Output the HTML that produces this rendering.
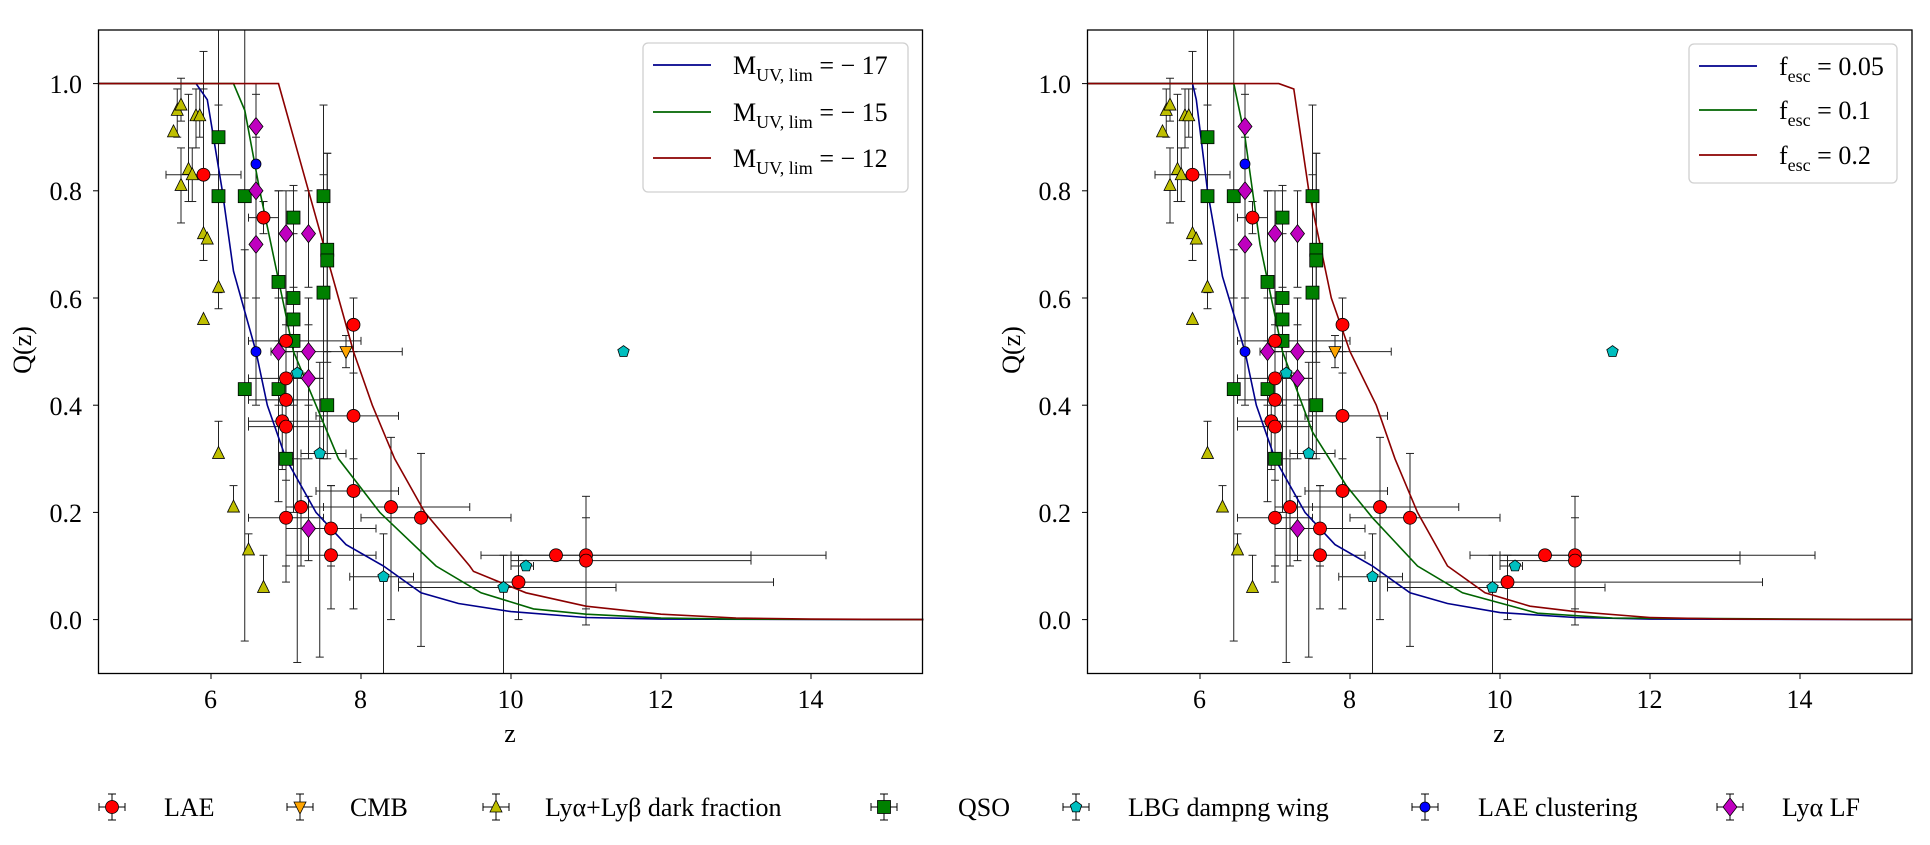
<!DOCTYPE html>
<html><head><meta charset="utf-8">
<style>
html,body{margin:0;padding:0;background:#fff;}
svg{display:block;font-family:"Liberation Serif","DejaVu Serif",serif;}
</style></head>
<body>
<svg id="s" width="1930" height="845" viewBox="0 0 1930 845" xmlns="http://www.w3.org/2000/svg">
<rect width="1930" height="845" fill="#fff"/>
<g id="plots"></g>
<rect x="98.5" y="30" width="824" height="643.5" fill="none" stroke="#000" stroke-width="1.3"/>
<rect x="1087.5" y="30" width="824.5" height="643.5" fill="none" stroke="#000" stroke-width="1.3"/>
<g font-size="26" fill="#000">
<g text-anchor="end">
<text x="82" y="629">0.0</text><text x="82" y="522">0.2</text><text x="82" y="415">0.4</text>
<text x="82" y="308">0.6</text><text x="82" y="200">0.8</text><text x="82" y="93">1.0</text>
<text x="1071" y="629">0.0</text><text x="1071" y="522">0.2</text><text x="1071" y="415">0.4</text>
<text x="1071" y="308">0.6</text><text x="1071" y="200">0.8</text><text x="1071" y="93">1.0</text>
</g>
<g text-anchor="middle">
<text x="210.5" y="708">6</text><text x="360.5" y="708">8</text><text x="510.5" y="708">10</text>
<text x="660.5" y="708">12</text><text x="810.5" y="708">14</text>
<text x="1199.5" y="708">6</text><text x="1349.5" y="708">8</text><text x="1499.5" y="708">10</text>
<text x="1649.5" y="708">12</text><text x="1799.5" y="708">14</text>
<text x="510" y="742">z</text><text x="1499" y="742">z</text>
<text transform="translate(31,350) rotate(-90)">Q(z)</text>
<text transform="translate(1020,350) rotate(-90)">Q(z)</text>
</g>
<rect x="643" y="43" width="265" height="149" rx="5" fill="#fff" fill-opacity="0.8" stroke="#d0d0d0" stroke-width="1.3"/>
<line x1="653" y1="65" x2="711" y2="65" stroke="#00008b" stroke-width="1.8"/>
<line x1="653" y1="112" x2="711" y2="112" stroke="#006400" stroke-width="1.8"/>
<line x1="653" y1="158" x2="711" y2="158" stroke="#8b0000" stroke-width="1.8"/>
<text x="733" y="74">M<tspan font-size="18" dy="7">UV, lim</tspan><tspan dy="-7"> = − 17</tspan></text>
<text x="733" y="121">M<tspan font-size="18" dy="7">UV, lim</tspan><tspan dy="-7"> = − 15</tspan></text>
<text x="733" y="167">M<tspan font-size="18" dy="7">UV, lim</tspan><tspan dy="-7"> = − 12</tspan></text>
<rect x="1689" y="44" width="208" height="139" rx="5" fill="#fff" fill-opacity="0.8" stroke="#d0d0d0" stroke-width="1.3"/>
<line x1="1699" y1="66" x2="1757" y2="66" stroke="#00008b" stroke-width="1.8"/>
<line x1="1699" y1="110" x2="1757" y2="110" stroke="#006400" stroke-width="1.8"/>
<line x1="1699" y1="155" x2="1757" y2="155" stroke="#8b0000" stroke-width="1.8"/>
<text x="1779" y="75">f<tspan font-size="18" dy="7">esc</tspan><tspan dy="-7"> = 0.05</tspan></text>
<text x="1779" y="119">f<tspan font-size="18" dy="7">esc</tspan><tspan dy="-7"> = 0.1</tspan></text>
<text x="1779" y="164">f<tspan font-size="18" dy="7">esc</tspan><tspan dy="-7"> = 0.2</tspan></text>
<text x="164" y="816">LAE</text>
<text x="350" y="816">CMB</text>
<text x="545" y="816">Lyα+Lyβ dark fraction</text>
<text x="958" y="816">QSO</text>
<text x="1128" y="816">LBG dampng wing</text>
<text x="1478" y="816">LAE clustering</text>
<text x="1782" y="816">Lyα LF</text>
</g>
<g id="leg"></g>
</svg>
<script>
var NS="http://www.w3.org/2000/svg";
function el(p,t,a){var e=document.createElementNS(NS,t);for(var k in a)e.setAttribute(k,a[k]);p.appendChild(e);return e;}
var P=document.getElementById("plots"),L=document.getElementById("leg");
var C={lae:"#ff0000",cmb:"#ffa500",dark:"#bfbf00",qso:"#008000",lbg:"#00bfbf",cl:"#0000ff",lf:"#bf00bf"};
function marker(g,type,x,y){
 var c=C[type],st={fill:c,stroke:"#000","stroke-width":0.8};
 if(type=="lae"){st.cx=x;st.cy=y;st.r=6.5;el(g,"circle",st);}
 else if(type=="cl"){st.cx=x;st.cy=y;st.r=5;el(g,"circle",st);}
 else if(type=="qso"){st.x=x-6.5;st.y=y-6.5;st.width=13;st.height=13;el(g,"rect",st);}
 else if(type=="dark"){st.points=(x-6)+","+(y+5)+" "+(x+6)+","+(y+5)+" "+x+","+(y-7);el(g,"polygon",st);}
 else if(type=="cmb"){st.points=(x-6)+","+(y-5)+" "+(x+6)+","+(y-5)+" "+x+","+(y+7);el(g,"polygon",st);}
 else if(type=="lf"){st.points=x+","+(y-9)+" "+(x+7)+","+y+" "+x+","+(y+9)+" "+(x-7)+","+y;el(g,"polygon",st);}
 else if(type=="lbg"){var p=[];for(var i=0;i<5;i++){var a=-Math.PI/2+i*2*Math.PI/5;p.push((x+6*Math.cos(a)).toFixed(1)+","+(y+6*Math.sin(a)).toFixed(1));}st.points=p.join(" ");el(g,"polygon",st);}
}
var D=[
["dark",5.5,0.91,0,0,0.91,0.91],["dark",5.55,0.95,0,0,0.9,0.99],["dark",5.6,0.96,0,0,0.93,1.01],["dark",5.6,0.81,0,0,0.74,0.88],
["dark",5.7,0.84,0,0,0.78,0.98],["dark",5.75,0.83,0,0,0.78,0.88],["dark",5.8,0.94,0,0,0.88,0.99],["dark",5.85,0.94,0,0,0.9,0.99],
["dark",5.9,0.72,0,0,0.67,1.06],["dark",5.95,0.71,0,0,0.71,0.71],["dark",6.1,0.62,0,0,0.62,0.62],["dark",5.9,0.56,0,0,0.56,0.56],
["dark",6.1,0.31,0,0,0.31,0.37],["dark",6.3,0.21,0,0,0.21,0.25],["dark",6.5,0.13,0,0,0.13,0.16],["dark",6.7,0.06,0,0,0.06,0.12],
["qso",6.1,0.90,0,0,0.61,0.96],["qso",6.1,0.79,0,0,0.58,1.1],["qso",6.45,0.79,0,0,0.6,1.1],["qso",6.45,0.43,0,0,-0.04,0.69],
["qso",6.9,0.63,0,0,0.52,0.8],["qso",6.9,0.43,0,0,0.22,0.8],["qso",7.0,0.30,0,0,0.1,0.52],["qso",7.1,0.75,0,0,0.62,0.81],
["qso",7.1,0.60,0,0,0.4,0.8],["qso",7.1,0.56,0,0,0.3,0.76],["qso",7.1,0.52,0,0,0.2,0.72],["qso",7.5,0.79,0,0,0.6,0.96],
["qso",7.55,0.69,0,0,0.5,0.87],["qso",7.55,0.67,0,0,0.48,0.87],["qso",7.5,0.61,0,0,0.3,0.83],["qso",7.55,0.40,0,0,0.3,0.5],
["lae",5.9,0.83,5.4,6.4,0.67,0.99],["lae",6.7,0.75,6.5,6.9,0.72,0.78],["lae",7.0,0.52,6.5,8.0,0.4,0.6],["lae",7.0,0.45,6.5,7.5,0.35,0.55],
["lae",7.0,0.41,6.5,7.5,0.3,0.5],["lae",6.95,0.37,6.5,7.5,0.28,0.45],["lae",7.0,0.36,6.5,7.5,0.26,0.45],["lae",7.0,0.19,6.5,7.5,0.07,0.35],
["lae",7.9,0.55,7.9,7.9,0.5,0.6],["lae",7.9,0.38,7.4,8.5,0.3,0.46],["lae",7.9,0.24,7.4,8.5,0.02,0.5],["lae",7.2,0.21,7.0,7.5,0.1,0.3],
["lae",8.4,0.21,7.5,9.45,0.0,0.34],["lae",8.8,0.19,8.0,10.0,-0.05,0.31],["lae",7.6,0.17,7.0,8.2,0.1,0.25],["lae",7.6,0.12,7.0,8.2,0.02,0.25],
["lae",10.1,0.07,8.5,13.5,0.0,0.12],["lae",10.6,0.12,9.6,14.2,0.12,0.12],["lae",11.0,0.12,10.0,13.2,-0.01,0.23],["lae",11.0,0.11,10.0,13.2,0.02,0.19],
["cmb",7.8,0.50,7.0,8.55,0.47,0.53],
["lbg",7.15,0.46,7.0,7.3,-0.08,0.5],["lbg",7.45,0.31,7.2,7.8,-0.07,0.48],["lbg",8.3,0.08,7.85,8.7,-0.1,0.16],["lbg",9.9,0.06,8.5,11.4,-0.1,0.12],["lbg",10.2,0.10,10.0,10.3,0.1,0.1],["lbg",11.5,0.50,11.5,11.5,0.5,0.5],
["cl",6.6,0.85,0,0,0.6,0.98],["cl",6.6,0.50,0,0,0.4,0.6],
["lf",6.6,0.92,0,0,0.85,1.0],["lf",6.6,0.80,0,0,0.6,0.9],["lf",6.6,0.70,0,0,0.5,0.8],["lf",7.0,0.72,0,0,0.6,0.8],["lf",7.3,0.72,0,0,0.62,0.8],
["lf",6.9,0.50,6.8,7.1,0.4,0.6],["lf",7.3,0.50,0,0,0.4,0.6],["lf",7.3,0.45,7.0,7.5,0.3,0.55],["lf",7.3,0.17,0,0,0.11,0.23]
];
var curvesL=[
["#00008b",[[4.5,1],[5.8,1],[5.95,0.97],[6.15,0.8],[6.3,0.65],[6.6,0.5],[6.75,0.4],[7.0,0.3],[7.4,0.2],[7.8,0.14],[8.3,0.1],[8.8,0.05],[9.3,0.03],[10,0.015],[11,0.004],[12,0.001],[15.5,0]]],
["#006400",[[4.5,1],[6.3,1],[6.45,0.95],[6.65,0.8],[6.95,0.6],[7.1,0.5],[7.4,0.4],[7.7,0.3],[8.25,0.2],[9.0,0.1],[9.6,0.05],[10.3,0.02],[11,0.01],[12,0.003],[13,0.001],[15.5,0]]],
["#8b0000",[[4.5,1],[6.9,1],[7.1,0.9],[7.3,0.8],[7.5,0.7],[7.7,0.6],[7.9,0.5],[8.15,0.4],[8.45,0.3],[8.85,0.2],[9.45,0.1],[9.5,0.09],[10.2,0.05],[11,0.025],[12,0.01],[13,0.003],[14,0.001],[15.5,0]]]];
var curvesR=[
["#00008b",[[4.5,1],[5.9,1],[5.95,0.97],[6.1,0.8],[6.3,0.64],[6.6,0.5],[6.75,0.4],[7.0,0.3],[7.4,0.2],[7.8,0.14],[8.3,0.1],[8.8,0.05],[9.3,0.03],[10,0.013],[11,0.004],[12,0.001],[15.5,0]]],
["#006400",[[4.5,1],[6.45,1],[6.6,0.9],[6.8,0.7],[7.1,0.5],[7.5,0.35],[7.95,0.25],[8.3,0.19],[8.9,0.1],[9.5,0.05],[10.5,0.012],[11.5,0.003],[15.5,0]]],
["#8b0000",[[4.5,1],[7.05,1],[7.25,0.99],[7.45,0.8],[7.75,0.6],[8.0,0.5],[8.35,0.4],[8.6,0.3],[8.9,0.2],[9.3,0.1],[9.8,0.05],[10.4,0.025],[11,0.015],[12,0.004],[13,0.001],[15.5,0]]]];
function panel(x0,curves){
 var g=el(P,"g",{});
 function X(z){return x0+(z-4.5)*75;}
 function Y(q){return 619.6-q*536;}
 [6,8,10,12,14].forEach(function(z){el(g,"line",{x1:X(z),x2:X(z),y1:673.5,y2:679,stroke:"#000","stroke-width":1});});
 [0,0.2,0.4,0.6,0.8,1].forEach(function(q){el(g,"line",{x1:x0-5.5,x2:x0,y1:Y(q),y2:Y(q),stroke:"#000","stroke-width":1});});
 var eb=el(g,"g",{stroke:"#222","stroke-width":1,fill:"none"});
 D.forEach(function(d){
  var x=X(d[1]),y=Y(d[2]);
  var ylo=Math.max(d[5],-0.1),yhi=Math.min(d[6],1.1);
  if(d[6]!=d[5]){el(eb,"line",{x1:x,x2:x,y1:Y(ylo),y2:Y(yhi)});
    if(d[5]>-0.1)el(eb,"line",{x1:x-4,x2:x+4,y1:Y(ylo),y2:Y(ylo)});
    if(d[6]<1.1)el(eb,"line",{x1:x-4,x2:x+4,y1:Y(yhi),y2:Y(yhi)});}
  if(d[4]!=d[3]){el(eb,"line",{x1:X(d[3]),x2:X(d[4]),y1:y,y2:y});
    el(eb,"line",{x1:X(d[3]),x2:X(d[3]),y1:y-4,y2:y+4});el(eb,"line",{x1:X(d[4]),x2:X(d[4]),y1:y-4,y2:y+4});}
 });
 curves.forEach(function(c){
  el(g,"polyline",{points:c[1].map(function(p){return X(p[0]).toFixed(1)+","+Y(p[1]).toFixed(1);}).join(" "),fill:"none",stroke:c[0],"stroke-width":1.6});
 });
 var mg=el(g,"g",{});
 D.forEach(function(d){marker(mg,d[0],X(d[1]),Y(d[2]));});
}
panel(98.5,curvesL);
panel(1087.5,curvesR);
[["lae",112],["cmb",300],["dark",496],["qso",884],["lbg",1076],["cl",1425],["lf",1730]].forEach(function(m){
 var x=m[1],y=807,g=el(L,"g",{stroke:"#000","stroke-width":1});
 el(g,"line",{x1:x-13,x2:x+13,y1:y,y2:y});el(g,"line",{x1:x,x2:x,y1:y-13,y2:y+13});
 el(g,"line",{x1:x-13,x2:x-13,y1:y-4,y2:y+4});el(g,"line",{x1:x+13,x2:x+13,y1:y-4,y2:y+4});
 el(g,"line",{x1:x-4,x2:x+4,y1:y-13,y2:y-13});el(g,"line",{x1:x-4,x2:x+4,y1:y+13,y2:y+13});
 marker(L,m[0],x,y);
});
</script>
</body></html>
